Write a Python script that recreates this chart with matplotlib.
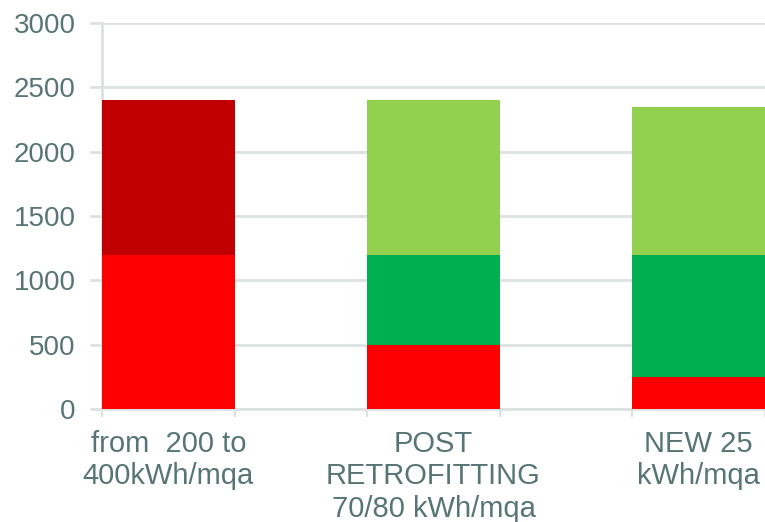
import matplotlib.pyplot as plt
import numpy as np

plt.rcParams['font.family'] = ['Liberation Sans', 'DejaVu Sans']

# energy classes per building type
categories = ['from  200 to\n400kWh/mqa', 'POST\nRETROFITTING\n70/80 kWh/mqa', 'NEW 25\nkWh/mqa']
red_part = [1200, 500, 250]
green_part = [0, 700, 950]
light_green_part = [0, 1200, 1150]
dark_red_part = [1200, 0, 0]

yticks = [0, 500, 1000, 1500, 2000, 2500, 3000]

text_color = '#587575'
grid_color = '#dde1e1'

fig = plt.figure(figsize=(7.65, 5.22), dpi=100)
ax = fig.add_axes([0.1333, 0.2165, 0.8667, 0.7395])

x = np.arange(len(categories))
w = 0.5
bottom = np.zeros(len(categories))
for vals, col in [(red_part, '#ff0000'), (green_part, '#00b050'),
                  (light_green_part, '#92d050'), (dark_red_part, '#c00000')]:
    ax.bar(x, vals, width=w, bottom=bottom, color=col, zorder=3)
    bottom += np.array(vals)

ax.set_xlim(-0.25, 2.25)
ax.set_ylim(0, 3000)
ax.set_yticks(yticks)
ax.set_yticklabels([str(v) for v in yticks])

# category labels at bar centres, tick marks at bar edges
ax.set_xticks(x)
ax.set_xticklabels(categories)
ax.set_xticks(np.arange(-0.25, 2.3, 0.5), minor=True)
ax.tick_params(axis='x', which='major', length=0, pad=15, labelsize=21,
               labelcolor=text_color)
ax.tick_params(axis='x', which='minor', length=6, width=1.5, color=grid_color)
ax.tick_params(axis='y', length=9, width=2, color=grid_color, pad=10,
               labelsize=20, labelcolor=text_color)

for lbl in ax.get_xticklabels():
    lbl.set_linespacing(1.2)

ax.grid(axis='y', color=grid_color, linewidth=2, zorder=0)
ax.set_axisbelow(True)
for s in ['top', 'right']:
    ax.spines[s].set_visible(False)
ax.spines['left'].set_color(grid_color)
ax.spines['left'].set_linewidth(2)
ax.spines['bottom'].set_color(grid_color)
ax.spines['bottom'].set_linewidth(2)

fig.savefig('out.png', dpi=100)
